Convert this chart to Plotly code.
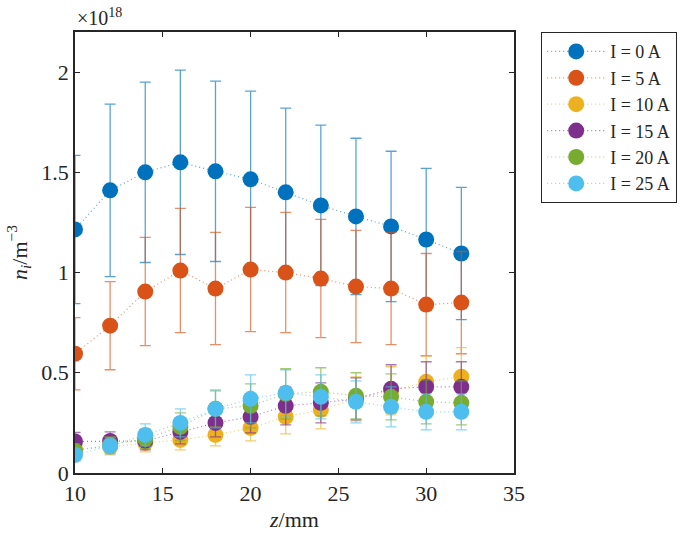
import plotly.graph_objects as go

z = [10, 12, 14, 16, 18, 20, 22, 24, 26, 28, 30, 32]

labels = ["I = 0 A", "I = 5 A", "I = 10 A", "I = 15 A", "I = 20 A", "I = 25 A"]
colors = ["#0072BD", "#D95319", "#EDB120", "#7E2F8E", "#77AC30", "#4DBEEE"]
err_colors = ["rgba(0,114,189,0.65)", "rgba(217,83,25,0.65)", "rgba(237,177,32,0.65)",
              "rgba(126,47,142,0.65)", "rgba(119,172,48,0.65)", "rgba(77,190,238,0.65)"]

# densities in units of 1e18 m^-3
n_0A = [1.215, 1.41, 1.50, 1.55, 1.505, 1.465, 1.40, 1.335, 1.28, 1.23, 1.165, 1.095]
e_0A = [0.37, 0.43, 0.45, 0.46, 0.45, 0.44, 0.42, 0.40, 0.39, 0.375, 0.355, 0.33]
n_5A = [0.595, 0.735, 0.905, 1.01, 0.92, 1.015, 1.0, 0.97, 0.93, 0.92, 0.84, 0.85]
e_5A = [0.18, 0.22, 0.27, 0.31, 0.28, 0.31, 0.30, 0.295, 0.28, 0.28, 0.255, 0.255]
n_10A = [0.12, 0.13, 0.15, 0.165, 0.19, 0.225, 0.28, 0.315, 0.37, 0.41, 0.455, 0.48]
e_10A = [0.035, 0.04, 0.045, 0.05, 0.055, 0.065, 0.085, 0.095, 0.11, 0.12, 0.13, 0.145]
n_15A = [0.157, 0.16, 0.16, 0.205, 0.25, 0.28, 0.335, 0.35, 0.37, 0.42, 0.43, 0.43]
e_15A = [0.045, 0.045, 0.045, 0.06, 0.07, 0.08, 0.095, 0.10, 0.105, 0.12, 0.125, 0.125]
n_20A = [0.11, 0.14, 0.17, 0.23, 0.32, 0.335, 0.395, 0.405, 0.385, 0.38, 0.355, 0.35]
e_20A = [0.035, 0.04, 0.05, 0.07, 0.09, 0.11, 0.125, 0.12, 0.115, 0.115, 0.11, 0.11]
n_25A = [0.09, 0.135, 0.19, 0.25, 0.32, 0.37, 0.40, 0.38, 0.355, 0.33, 0.305, 0.305]
e_25A = [0.03, 0.04, 0.055, 0.07, 0.095, 0.12, 0.115, 0.11, 0.105, 0.10, 0.09, 0.09]

series = [n_0A, n_5A, n_10A, n_15A, n_20A, n_25A]
errors = [e_0A, e_5A, e_10A, e_15A, e_20A, e_25A]

fig = go.Figure()
for lab, col, ecol, y, e in zip(labels, colors, err_colors, series, errors):
    fig.add_trace(go.Scatter(
        x=z, y=y, name=lab, mode="lines+markers",
        line=dict(color=ecol, width=1.2, dash="1px,3px"),
        marker=dict(color=col, size=16, line=dict(width=0)),
        error_y=dict(type="data", array=e, visible=True, color=ecol,
                     thickness=1.3, width=5.5),
    ))

font_family = "Liberation Serif"
axis_common = dict(
    showline=True, linecolor="#262626", linewidth=1.5, mirror="ticks",
    ticks="inside", ticklen=5, tickwidth=1.2, tickcolor="#262626",
    showgrid=False, zeroline=False, automargin=False,
    tickfont=dict(family=font_family, size=22, color="#262626"),
)
fig.update_layout(
    width=685, height=541,
    margin=dict(l=75, r=171, t=32, b=68, autoexpand=False),
    paper_bgcolor="white", plot_bgcolor="white",
    font=dict(family=font_family, color="#262626"),
    xaxis=dict(range=[10, 35], tickvals=[10, 15, 20, 25, 30, 35],
               title=dict(text="<i>z</i>/mm", font=dict(family=font_family, size=22), standoff=6),
               **axis_common),
    yaxis=dict(range=[0, 2.2], tickvals=[0, 0.5, 1, 1.5, 2],
               ticktext=["0", "0.5", "1", "1.5", "2"],
               title=dict(text="<i>n<sub>i</sub></i>/m<sup>\u22123</sup>",
                          font=dict(family=font_family, size=22), standoff=8),
               **axis_common),
    legend=dict(xref="container", yref="container", x=541 / 685, y=1 - 32 / 541,
                xanchor="left", yanchor="top",
                bordercolor="#262626", borderwidth=1.2, bgcolor="white",
                font=dict(family=font_family, size=18, color="#262626"),
                itemwidth=58, tracegroupgap=0),
    annotations=[dict(xref="paper", yref="paper", x=0, y=1.0, xanchor="left",
                      yanchor="bottom", yshift=1, showarrow=False,
                      text="\u00d710<sup>18</sup>",
                      font=dict(family=font_family, size=20, color="#262626"))],
    showlegend=True,
)
fig.write_html("out.html")
